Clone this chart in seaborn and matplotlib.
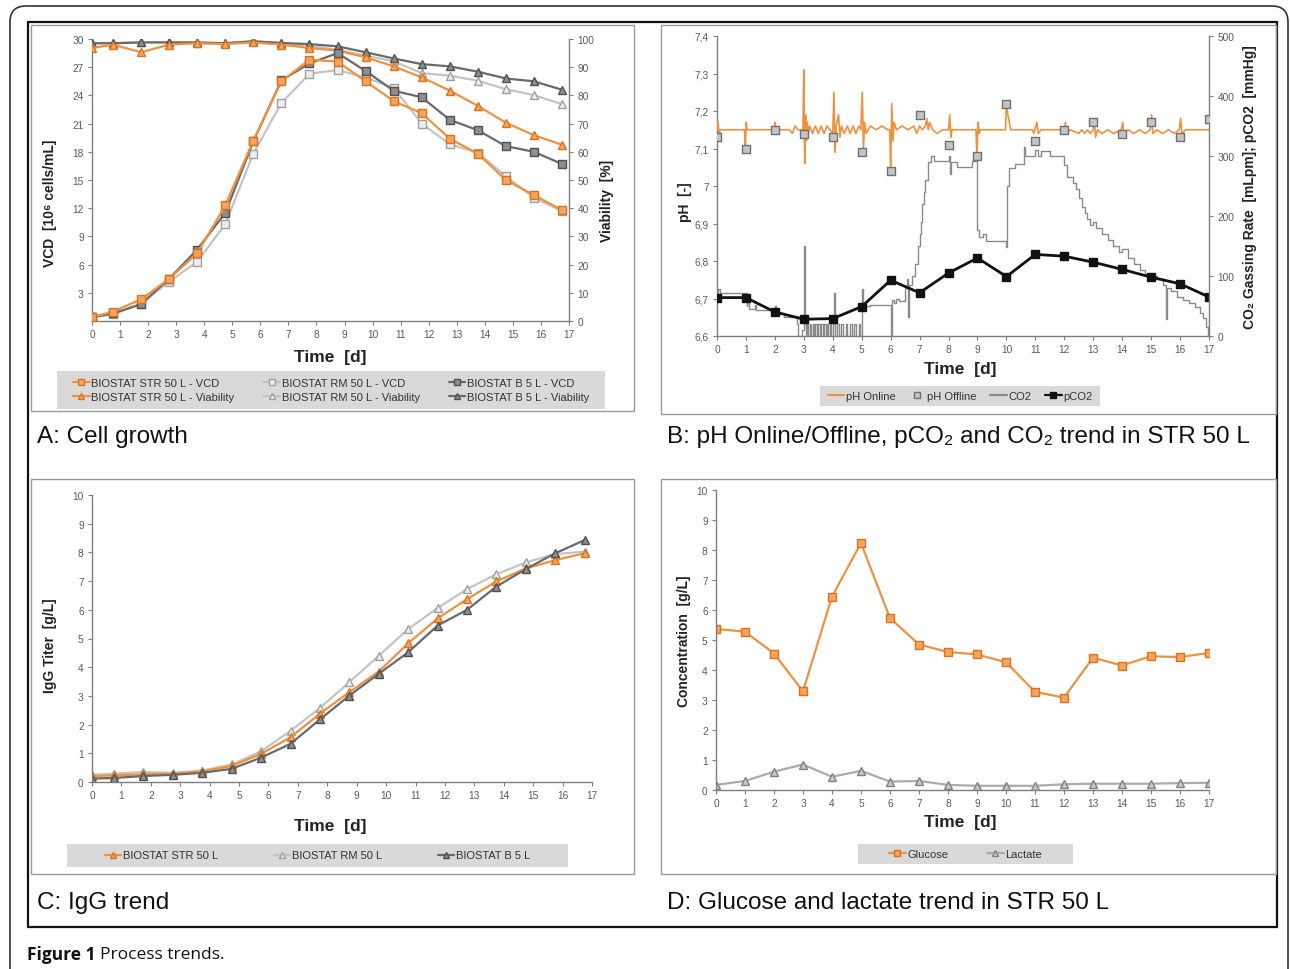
import numpy as np
import pandas as pd
import matplotlib
matplotlib.use('Agg')
import matplotlib.pyplot as plt
import matplotlib.transforms as mtransforms
import seaborn as sns
from matplotlib.patches import Rectangle, FancyBboxPatch
from matplotlib.lines import Line2D

# ── data: panel A (cell growth) ──
t_a = [0, 0.75, 1.75, 2.75, 3.75, 4.75, 5.75, 6.75, 7.75, 8.75,
       9.75, 10.75, 11.75, 12.75, 13.75, 14.75, 15.75, 16.75]
vcd_str = [0.4, 1.0, 2.3, 4.5, 7.2, 12.3, 19.2, 25.5, 27.8, 27.6,
           25.5, 23.4, 22.1, 19.4, 17.8, 15.0, 13.4, 11.8]
vcd_rm = [0.4, 0.7, 1.8, 4.2, 6.3, 10.3, 17.8, 23.2, 26.3, 26.7,
          25.9, 24.8, 21.0, 18.8, 17.9, 15.4, 13.1, 11.7]
vcd_b5 = [0.4, 0.8, 1.8, 4.5, 7.6, 11.5, 19.1, 25.6, 27.4, 28.5,
          26.6, 24.5, 23.8, 21.4, 20.3, 18.6, 18.0, 16.7]
via_str = [96.8, 98.0, 95.3, 98.0, 98.5, 98.2, 98.8, 98.0, 96.8, 95.9,
           93.5, 90.3, 86.4, 81.7, 76.3, 70.3, 65.9, 62.5]
via_rm = [98.5, 98.5, 98.8, 98.8, 98.6, 98.5, 99.2, 98.5, 97.6, 96.2,
          94.1, 92.1, 87.9, 87.0, 85.2, 82.2, 80.1, 76.9]
via_b5 = [98.5, 98.5, 98.8, 98.8, 98.8, 98.5, 99.2, 98.6, 98.2, 97.4,
          95.3, 93.1, 91.1, 90.3, 88.4, 86.0, 85.0, 82.0]

# ── data: panel B (pH, CO2, pCO2 in STR 50 L) ──
days = list(range(18))
ph_offline = [7.13, 7.10, 7.15, 7.14, 7.13, 7.09, 7.04, 7.19, 7.11, 7.08,
              7.22, 7.12, 7.15, 7.17, 7.14, 7.17, 7.13, 7.18]
pco2 = [64, 64, 40, 28, 29, 49, 93, 72, 105, 130,
        99, 136, 133, 123, 111, 98, 87, 65]
ph_online = [(0, 7.15), (0.04, 7.17), (0.07, 7.13), (0.1, 7.15), (0.95, 7.15), (0.98, 7.10),
             (1.01, 7.17), (1.04, 7.15), (1.97, 7.15), (2.0, 7.17), (2.03, 7.14), (2.06, 7.15),
             (2.5, 7.15), (2.6, 7.14), (2.7, 7.16), (2.8, 7.15), (2.97, 7.15), (3.0, 7.31),
             (3.03, 7.06), (3.06, 7.19), (3.09, 7.12), (3.12, 7.17), (3.15, 7.14), (3.2, 7.16),
             (3.3, 7.14), (3.4, 7.16), (3.5, 7.14), (3.6, 7.16), (3.7, 7.14), (3.8, 7.16),
             (3.9, 7.15), (4.0, 7.14), (4.04, 7.25), (4.08, 7.09), (4.12, 7.16), (4.2, 7.19),
             (4.25, 7.13), (4.3, 7.16), (4.4, 7.14), (4.5, 7.16), (4.6, 7.14), (4.7, 7.16),
             (4.8, 7.14), (4.9, 7.16), (4.97, 7.15), (5.02, 7.25), (5.06, 7.10), (5.1, 7.17),
             (5.15, 7.14), (5.3, 7.16), (5.5, 7.15), (5.7, 7.16), (5.9, 7.15), (5.97, 7.15),
             (6.0, 7.04), (6.04, 7.22), (6.08, 7.12), (6.12, 7.17), (6.2, 7.15), (6.4, 7.16),
             (6.6, 7.15), (6.8, 7.16), (6.9, 7.14), (7.0, 7.16), (7.1, 7.15), (7.2, 7.16),
             (7.25, 7.18), (7.3, 7.15), (7.35, 7.17), (7.45, 7.15), (7.6, 7.14), (7.8, 7.15),
             (8.0, 7.15), (8.04, 7.19), (8.08, 7.13), (8.12, 7.15), (8.5, 7.15), (8.95, 7.15),
             (8.98, 7.08), (9.02, 7.17), (9.06, 7.14), (9.1, 7.15), (9.97, 7.15), (10.0, 7.22),
             (10.05, 7.19), (10.1, 7.17), (10.15, 7.15), (10.9, 7.15), (10.95, 7.14), (11.05, 7.17),
             (11.1, 7.14), (11.2, 7.15), (12.0, 7.15), (12.04, 7.17), (12.08, 7.14), (12.2, 7.15),
             (12.5, 7.14), (12.6, 7.15), (12.7, 7.14), (12.8, 7.15), (12.9, 7.14), (13.0, 7.15),
             (13.04, 7.17), (13.08, 7.13), (13.15, 7.15), (13.3, 7.14), (13.5, 7.15), (13.7, 7.14),
             (13.97, 7.15), (14.02, 7.17), (14.06, 7.14), (14.2, 7.15), (14.4, 7.14), (14.6, 7.15),
             (14.8, 7.14), (14.97, 7.15), (15.02, 7.19), (15.06, 7.14), (15.2, 7.15), (15.4, 7.14),
             (15.6, 7.15), (15.8, 7.14), (15.97, 7.15), (16.02, 7.18), (16.06, 7.14), (16.2, 7.15),
             (16.5, 7.15), (16.8, 7.15), (17.0, 7.15)]
co2_rate = [(0, 72), (0.05, 79), (0.1, 72), (1.0, 72), (1.02, 50), (1.05, 62), (1.1, 45),
            (1.3, 51), (1.35, 43), (1.95, 43), (2.0, 50), (2.05, 38), (2.3, 32), (2.7, 32),
            (2.75, 20), (2.8, 0), (2.95, 10), (3.0, 150), (3.03, 20), (3.06, 0), (3.1, 20),
            (3.15, 0), (3.2, 20), (3.25, 0), (3.3, 20), (3.35, 0), (3.4, 20), (3.45, 0),
            (3.5, 20), (3.55, 0), (3.6, 20), (3.65, 0), (3.7, 20), (3.75, 0), (3.8, 20),
            (3.85, 0), (3.9, 20), (3.95, 0), (4.0, 20), (4.05, 71), (4.08, 0), (4.15, 20),
            (4.2, 0), (4.3, 20), (4.35, 0), (4.45, 20), (4.5, 0), (4.6, 20), (4.65, 0),
            (4.75, 20), (4.8, 0), (4.9, 20), (4.95, 0), (5.0, 79), (5.03, 50), (5.3, 52),
            (5.9, 52), (6.0, 0), (6.05, 60), (6.1, 55), (6.2, 62), (6.3, 58), (6.5, 80),
            (6.55, 95), (6.6, 32), (6.65, 85), (6.75, 100), (6.85, 120), (6.95, 150), (7.0, 170),
            (7.05, 190), (7.1, 220), (7.15, 240), (7.2, 260), (7.3, 290), (7.4, 300), (7.5, 292),
            (8.0, 300), (8.05, 270), (8.1, 290), (8.3, 282), (8.8, 292), (9.0, 176), (9.05, 165),
            (9.2, 170), (9.3, 159), (10.0, 149), (10.02, 250), (10.1, 280), (10.3, 287),
            (10.6, 315), (10.65, 300), (11.0, 310), (11.1, 300), (11.2, 308), (11.5, 300),
            (12.0, 285), (12.1, 265), (12.3, 255), (12.4, 245), (12.5, 230), (12.6, 215),
            (12.7, 205), (12.8, 195), (12.9, 185), (13.0, 190), (13.1, 180), (13.3, 170),
            (13.5, 160), (13.7, 150), (13.9, 140), (14.0, 145), (14.2, 130), (14.4, 120),
            (14.6, 110), (14.8, 104), (15.0, 100), (15.2, 95), (15.4, 85), (15.5, 29),
            (15.55, 80), (15.7, 75), (15.9, 65), (16.1, 60), (16.3, 55), (16.5, 48),
            (16.7, 38), (16.8, 30), (16.9, 15), (16.95, 0), (17.0, 18)]
ph_ticks = [6.6, 6.7, 6.8, 6.9, 7.0, 7.1, 7.2, 7.3, 7.4]
ph_ticklabels = ['6,6', '6,7', '6,8', '6,9', '7', '7,1', '7,2', '7,3', '7,4']

# ── data: panel C (IgG titer) ──
igg_str = [0.20, 0.23, 0.27, 0.29, 0.37, 0.56, 0.98, 1.56, 2.38, 3.13,
           3.85, 4.83, 5.70, 6.37, 6.99, 7.44, 7.73, 7.97]
igg_rm = [0.25, 0.29, 0.35, 0.32, 0.40, 0.61, 1.07, 1.78, 2.58, 3.48,
          4.40, 5.33, 6.06, 6.72, 7.24, 7.65, 7.94, 8.03]
igg_b5 = [0.12, 0.14, 0.21, 0.25, 0.32, 0.46, 0.85, 1.33, 2.18, 3.01,
          3.77, 4.52, 5.45, 6.00, 6.81, 7.42, 7.97, 8.43]

# ── data: panel D (glucose / lactate in STR 50 L) ──
glucose = [5.37, 5.28, 4.55, 3.29, 6.45, 8.23, 5.73, 4.85, 4.60, 4.52,
           4.26, 3.27, 3.08, 4.41, 4.15, 4.46, 4.43, 4.57]
lactate = [0.17, 0.30, 0.61, 0.85, 0.44, 0.64, 0.28, 0.30, 0.17, 0.14,
           0.14, 0.14, 0.19, 0.21, 0.21, 0.21, 0.23, 0.24]

# ── styles ──
ORANGE, ORANGE_FACE, ORANGE_EDGE = '#F0913F', '#F6A45E', '#D9731E'
LIGHT, LIGHT_FACE, LIGHT_EDGE = '#C4C4C4', '#EDEDED', '#A0A0A0'
DARK, DARK_FACE, DARK_EDGE = '#6A6A6A', '#8E8E8E', '#505050'
TICK_C = '#5A5A5A'
SPINE_C = '#7F7F7F'
LEG_BG = '#D9D9D9'

sns.set_theme(style='white')
plt.rcParams['font.family'] = ['Liberation Sans', 'DejaVu Sans']
plt.rcParams['axes.unicode_minus'] = False

W, H = 1290, 970
fig = plt.figure(figsize=(W / 100, H / 100), dpi=100)


def frac(x0, y0, x1, y1):
    # pixel box (top-left origin) -> figure fraction rect
    return [x0 / W, 1 - y1 / H, (x1 - x0) / W, (y1 - y0) / H]


def style_main(ax):
    for s in ['top', 'right']:
        ax.spines[s].set_visible(False)
    for s in ['left', 'bottom']:
        ax.spines[s].set_color(SPINE_C)
        ax.spines[s].set_linewidth(1.0)
    ax.tick_params(axis='both', direction='out', length=3, width=0.8, color=SPINE_C,
                   labelsize=7.3, labelcolor=TICK_C, pad=3, left=True, bottom=True)
    ax.set_xlim(0, 17)
    ax.set_xticks(range(18))
    ax.set_facecolor('none')


def style_twin(ax):
    for s in ['top', 'left', 'bottom']:
        ax.spines[s].set_visible(False)
    ax.spines['right'].set_color(SPINE_C)
    ax.spines['right'].set_linewidth(1.0)
    ax.tick_params(axis='y', direction='out', length=3, width=0.8, color=SPINE_C,
                   labelsize=7.3, labelcolor=TICK_C, pad=3, right=True, left=False)
    ax.grid(False)


def series(ax, x, y, color, marker, face, edge, lw=1.6, ms=5.3, **kw):
    sns.lineplot(x=x, y=y, ax=ax, color=color, marker=marker, markersize=ms,
                 markerfacecolor=face, markeredgecolor=edge, markeredgewidth=1.0,
                 linewidth=lw, estimator=None, sort=False, legend=False, **kw)


def handle(color, marker, face, edge, ls='-', lw=1.6):
    return Line2D([], [], color=color, marker=marker, markersize=5, markerfacecolor=face,
                  markeredgecolor=edge, linestyle=ls, linewidth=lw)


def legend_box(x0, y0, x1, y1, handles, labels, ncol, fs=8, colsp=2.0):
    fig.patches.append(Rectangle((x0 / W, 1 - y1 / H), (x1 - x0) / W, (y1 - y0) / H,
                                 transform=fig.transFigure, facecolor=LEG_BG,
                                 edgecolor='none', zorder=0))
    fig.legend(handles, labels, ncol=ncol, loc='center',
               bbox_to_anchor=((x0 + x1) / 2 / W, 1 - (y0 + y1) / 2 / H),
               bbox_transform=fig.transFigure, frameon=False, fontsize=fs,
               handlelength=1.5, handletextpad=0.15, columnspacing=colsp,
               labelspacing=0.3, borderpad=0.1, labelcolor='#333333')


# ── frames ──
fig.patches.append(FancyBboxPatch((10, -30), 1278, 970 - 7 + 30,
                                  boxstyle='round,pad=0,rounding_size=16',
                                  transform=mtransforms.IdentityTransform(),
                                  fill=False, edgecolor='#333333', linewidth=1.2))
fig.patches.append(Rectangle((28 / W, 1 - 928 / H), (1277 - 28) / W, (928 - 23) / H,
                             transform=fig.transFigure, fill=False,
                             edgecolor='#111111', linewidth=1.6))
for box in [(31, 26, 634, 412), (661, 26, 1276, 415), (31, 480, 634, 875), (661, 480, 1276, 875)]:
    x0, y0, x1, y1 = box
    fig.patches.append(Rectangle((x0 / W, 1 - y1 / H), (x1 - x0) / W, (y1 - y0) / H,
                                 transform=fig.transFigure, fill=False,
                                 edgecolor='#9A9A9A', linewidth=1.0))

lab_kw = dict(fontsize=10, fontweight='bold', color='#222222')
time_kw = dict(fontsize=12.5, fontweight='bold', color='#222222')

# ══════════ Panel A ══════════
axA = fig.add_axes(frac(92, 40, 569, 322))
style_main(axA)
axA2 = axA.twinx()
style_twin(axA2)
series(axA2, t_a, via_rm, LIGHT, '^', LIGHT_FACE, LIGHT_EDGE)
series(axA2, t_a, via_b5, DARK, '^', DARK_FACE, DARK_EDGE)
series(axA2, t_a, via_str, ORANGE, '^', ORANGE_FACE, ORANGE_EDGE)
series(axA2, t_a, vcd_rm, LIGHT, 's', LIGHT_FACE, LIGHT_EDGE, transform=axA.transData)
series(axA2, t_a, vcd_b5, DARK, 's', DARK_FACE, DARK_EDGE, transform=axA.transData)
series(axA2, t_a, vcd_str, ORANGE, 's', ORANGE_FACE, ORANGE_EDGE, transform=axA.transData)
axA.set_ylim(0, 30)
axA.set_yticks(range(3, 31, 3))
axA2.set_ylim(0, 100)
axA2.set_yticks(range(0, 101, 10))
axA2.set_xlim(0, 17)
axA.set_ylabel('VCD  [10⁶ cells/mL]', **lab_kw)
axA.yaxis.set_label_coords(-0.073, 0.42)
axA2.set_ylabel('Viability  [%]', **lab_kw)
axA2.yaxis.set_label_coords(1.065, 0.43)
axA.set_xlabel('Time  [d]', **time_kw)
axA.xaxis.set_label_coords(0.50, -0.10)
axA2.set_xlabel('')

legend_box(57, 372, 605, 410,
           [handle(ORANGE, 's', ORANGE_FACE, ORANGE_EDGE), handle(ORANGE, '^', ORANGE_FACE, ORANGE_EDGE),
            handle(LIGHT, 's', LIGHT_FACE, LIGHT_EDGE), handle(LIGHT, '^', LIGHT_FACE, LIGHT_EDGE),
            handle(DARK, 's', DARK_FACE, DARK_EDGE), handle(DARK, '^', DARK_FACE, DARK_EDGE)],
           ['BIOSTAT STR 50 L - VCD', 'BIOSTAT STR 50 L - Viability',
            'BIOSTAT RM 50 L - VCD', 'BIOSTAT RM 50 L - Viability',
            'BIOSTAT B 5 L - VCD', 'BIOSTAT B 5 L - Viability'], ncol=3, colsp=2.6)

# ══════════ Panel B ══════════
axB = fig.add_axes(frac(717, 37, 1209, 337))
style_main(axB)
axB2 = axB.twinx()
style_twin(axB2)
co2_t, co2_v = zip(*co2_rate)
sns.lineplot(x=list(co2_t), y=list(co2_v), ax=axB2, color='#8A8A8A', linewidth=1.0,
             drawstyle='steps-post', estimator=None, sort=False, legend=False)
ph_t, ph_v = zip(*ph_online)
sns.lineplot(x=list(ph_t), y=list(ph_v), ax=axB2, color=ORANGE, linewidth=1.2,
             estimator=None, sort=False, legend=False, transform=axB.transData)
sns.scatterplot(x=days, y=ph_offline, ax=axB2, marker='s', s=26, color='#C4C4C4',
                edgecolor='#707070', linewidth=1.0, legend=False, transform=axB.transData,
                zorder=5)
series(axB2, days, pco2, '#111111', 's', '#111111', '#111111', lw=2.0, ms=5.3)
axB.set_ylim(6.6, 7.4)
axB.set_yticks(ph_ticks)
axB.set_yticklabels(ph_ticklabels)
axB2.set_ylim(0, 500)
axB2.set_yticks(range(0, 501, 100))
axB2.set_xlim(0, 17)
axB.set_ylabel('pH  [-]', **lab_kw)
axB.yaxis.set_label_coords(-0.05, 0.45)
axB2.set_ylabel('CO₂ Gassing Rate  [mLpm]; pCO2  [mmHg]', **lab_kw)
axB2.yaxis.set_label_coords(1.069, 0.5)
axB.set_xlabel('Time  [d]', **time_kw)
axB.xaxis.set_label_coords(0.494, -0.083)
axB2.set_xlabel('')

legend_box(820, 387, 1100, 407,
           [Line2D([], [], color=ORANGE, lw=1.6),
            Line2D([], [], linestyle='', marker='s', markersize=5, markerfacecolor='#C4C4C4',
                   markeredgecolor='#707070'),
            Line2D([], [], color='#8A8A8A', lw=1.6),
            handle('#111111', 's', '#111111', '#111111')],
           ['pH Online', 'pH Offline', 'CO2', 'pCO2'], ncol=4, fs=8, colsp=1.2)

# ══════════ Panel C ══════════
axC = fig.add_axes(frac(92, 496, 592, 783))
style_main(axC)
series(axC, t_a, igg_rm, LIGHT, '^', LIGHT_FACE, LIGHT_EDGE)
series(axC, t_a, igg_str, ORANGE, '^', ORANGE_FACE, ORANGE_EDGE)
series(axC, t_a, igg_b5, DARK, '^', DARK_FACE, DARK_EDGE)
axC.set_ylim(0, 10)
axC.set_yticks(range(0, 11))
axC.set_ylabel('IgG Titer  [g/L]', **lab_kw)
axC.yaxis.set_label_coords(-0.07, 0.48)
axC.set_xlabel('Time  [d]', **time_kw)
axC.xaxis.set_label_coords(0.476, -0.125)

legend_box(67, 845, 568, 868,
           [handle(ORANGE, '^', ORANGE_FACE, ORANGE_EDGE), handle(LIGHT, '^', LIGHT_FACE, LIGHT_EDGE),
            handle(DARK, '^', DARK_FACE, DARK_EDGE)],
           ['BIOSTAT STR 50 L', 'BIOSTAT RM 50 L', 'BIOSTAT B 5 L'], ncol=3, fs=8, colsp=5.0)

# ══════════ Panel D ══════════
axD = fig.add_axes(frac(716, 491, 1209, 791))
style_main(axD)
series(axD, days, lactate, '#ABABAB', '^', '#C8C8C8', '#808080')
series(axD, days, glucose, ORANGE, 's', ORANGE_FACE, ORANGE_EDGE)
axD.set_ylim(0, 10)
axD.set_yticks(range(0, 11))
axD.set_ylabel('Concentration  [g/L]', **lab_kw)
axD.yaxis.set_label_coords(-0.05, 0.5)
axD.set_xlabel('Time  [d]', **time_kw)
axD.xaxis.set_label_coords(0.495, -0.08)

legend_box(858, 845, 1073, 865,
           [handle(ORANGE, 's', ORANGE_FACE, ORANGE_EDGE), handle('#ABABAB', '^', '#C8C8C8', '#808080')],
           ['Glucose', 'Lactate'], ncol=2, fs=8, colsp=3.5)

# ── panel captions ──
cap_kw = dict(fontsize=17.5, color='#111111', va='center', ha='left')
fig.text(37 / W, 1 - 437 / H, 'A: Cell growth', **cap_kw)
fig.text(667 / W, 1 - 437 / H, 'B: pH Online/Offline, pCO₂ and CO₂ trend in STR 50 L', **cap_kw)
fig.text(37 / W, 1 - 903 / H, 'C: IgG trend', **cap_kw)
fig.text(667 / W, 1 - 903 / H, 'D: Glucose and lactate trend in STR 50 L', **cap_kw)

cap_fam = ['Open Sans', 'DejaVu Sans']
t1 = fig.text(27 / W, 1 - 955 / H, 'Figure 1', fontsize=12.5, fontweight='bold', va='center',
              family=cap_fam, color='#111111')
fig.canvas.draw()
x_end = t1.get_window_extent().x1
fig.text((x_end + 5) / W, 1 - 955 / H, 'Process trends.', fontsize=12.5, va='center',
         family=cap_fam, color='#111111')

fig.savefig('out.png', dpi=100)
